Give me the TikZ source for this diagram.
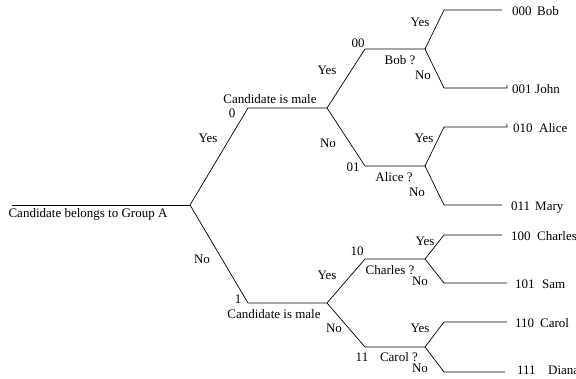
\documentclass[tikz,border=0pt]{standalone}
\usepackage{fontspec}
\setmainfont{Liberation Serif}
\begin{document}
\begin{tikzpicture}[x=1pt,y=-1pt,
  branch/.style={line width=0.7pt},
  lbl/.style={inner sep=0pt,font=\fontsize{13}{15}\selectfont},
  leaf/.style={lbl,anchor=base west}]
\useasboundingbox (0,0) rectangle (576,378);

% branch points of the decision tree
\coordinate (r0) at (12,205);   \coordinate (r) at (190,205);
\coordinate (a0) at (248,108);  \coordinate (a) at (327,108);
\coordinate (b0) at (248,303);  \coordinate (b) at (327,303);
\coordinate (aa0) at (365,49);  \coordinate (aa) at (425,49);
\coordinate (ab0) at (365,166); \coordinate (ab) at (425,166);
\coordinate (ba0) at (365,259); \coordinate (ba) at (425,259);
\coordinate (bb0) at (365,347); \coordinate (bb) at (425,347);
% leaves
\coordinate (aaa0) at (444,10);  \coordinate (aaa) at (502,10);
\coordinate (aab0) at (444,88);  \coordinate (aab) at (507,88);
\coordinate (aba0) at (444,127); \coordinate (aba) at (507,127);
\coordinate (abb0) at (444,205); \coordinate (abb) at (502,205);
\coordinate (baa0) at (444,235); \coordinate (baa) at (502,235);
\coordinate (bab0) at (444,283); \coordinate (bab) at (507,283);
\coordinate (bba0) at (444,322); \coordinate (bba) at (507,322);
\coordinate (bbb0) at (444,372); \coordinate (bbb) at (505,372);

% edges
\draw[branch] (r0) -- (r);
\draw[branch] (r) -- (a0) -- (a);
\draw[branch] (r) -- (b0) -- (b);
\draw[branch] (a) -- (aa0) -- (aa);
\draw[branch] (a) -- (ab0) -- (ab);
\draw[branch] (b) -- (ba0) -- (ba);
\draw[branch] (b) -- (bb0) -- (bb);
\draw[branch] (aa) -- (aaa0) -- (aaa);
\draw[branch] (aa) -- (aab0) -- (aab) -- ++(0,-3);
\draw[branch] (ab) -- (aba0) -- (aba) -- ++(0,-3);
\draw[branch] (ab) -- (abb0) -- (abb);
\draw[branch] (ba) -- (baa0) -- (baa);
\draw[branch] (ba) -- (bab0) -- (bab);
\draw[branch] (bb) -- (bba0) -- (bba);
\draw[branch] (bb) -- (bbb0) -- (bbb);

% root question
\node[lbl] (q0) at (88,214) {Candidate belongs to Group A};
\node[lbl] (y0) at (208,138) {Yes};
\node[lbl] (n0) at (202,259) {No};

% second level
\node[lbl] (c0) at (232,113) {0};
\node[lbl] (qa) at (270,99) {Candidate is male};
\node[lbl] (ya) at (327,70) {Yes};
\node[lbl] (na) at (328,143) {No};
\node[lbl] (c1) at (238,299) {1};
\node[lbl] (qb) at (274,314) {Candidate is male};
\node[lbl] (yb) at (327,275) {Yes};
\node[lbl] (nb) at (334,328) {No};

% third level
\node[lbl] (c00) at (358,43) {00};
\node[lbl] (qaa) at (400,60) {Bob ?};
\node[lbl] (yaa) at (420,22) {Yes};
\node[lbl] (naa) at (423,75) {No};
\node[lbl] (c01) at (353,167) {01};
\node[lbl] (qab) at (394,177) {Alice ?};
\node[lbl] (yab) at (424,138) {Yes};
\node[lbl] (nab) at (417,192) {No};
\node[lbl] (c10) at (357,251) {10};
\node[lbl] (qba) at (390,270) {Charles ?};
\node[lbl] (yba) at (425,241) {Yes};
\node[lbl] (nba) at (420,281) {No};
\node[lbl] (c11) at (362,357) {11};
\node[lbl] (qbb) at (399,357) {Carol ?};
\node[lbl] (ybb) at (420,328) {Yes};
\node[lbl] (nbb) at (420,368) {No};

% leaf codes and names
\node[leaf] (k000) at (512,15) {000};  \node[leaf] (m000) at (537,15) {Bob};
\node[leaf] (k001) at (512,93) {001};  \node[leaf] (m001) at (535,93) {John};
\node[leaf] (k010) at (513,132) {010}; \node[leaf] (m010) at (539,132) {Alice};
\node[leaf] (k011) at (511,210) {011}; \node[leaf] (m011) at (535,210) {Mary};
\node[leaf] (k100) at (511,240) {100}; \node[leaf] (m100) at (537,240) {Charles};
\node[leaf] (k101) at (515,288) {101}; \node[leaf] (m101) at (542,288) {Sam};
\node[leaf] (k110) at (515,327) {110}; \node[leaf] (m110) at (540,327) {Carol};
\node[leaf] (k111) at (517,374) {111}; \node[leaf] (m111) at (548,374) {Diana};
\end{tikzpicture}
\end{document}
